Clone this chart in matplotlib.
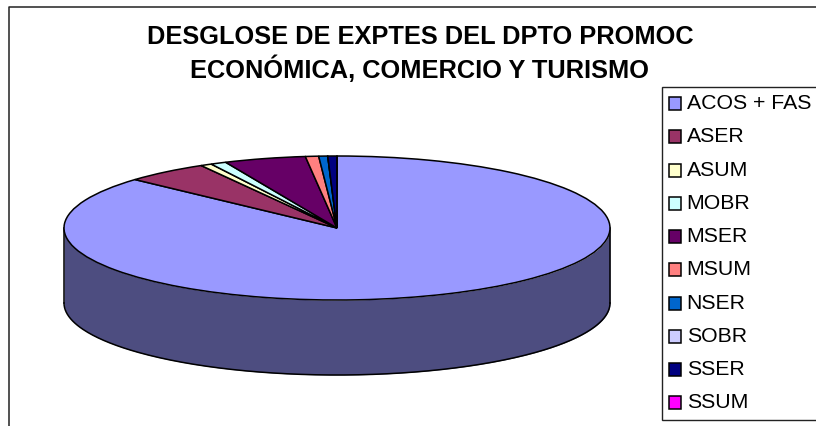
import numpy as np
import matplotlib
matplotlib.use('Agg')
import matplotlib.pyplot as plt
from matplotlib.lines import Line2D

plt.rcParams['font.family'] = ['Liberation Sans', 'DejaVu Sans']

labels = ['ACOS + FAS', 'ASER', 'ASUM', 'MOBR', 'MSER', 'MSUM', 'NSER', 'SOBR', 'SSER', 'SSUM']
values = [86.75, 4.97, 0.67, 0.93, 4.84, 0.78, 0.53, 0.0, 0.54, 0.0]
colors = ['#9999ff', '#993366', '#ffffcc', '#ccffff', '#660066', '#ff8080', '#0066cc', '#ccccff', '#000080', '#ff00ff']
title_lines = ['DESGLOSE DE EXPTES DEL DPTO PROMOC', 'ECONÓMICA, COMERCIO Y TURISMO']

W, H = 816, 426
fig = plt.figure(figsize=(W / 100, H / 100), dpi=100, facecolor='white')

# the axes box is exactly the top ellipse of the pie, in pixels
cx, cy, rx, ry = 337, 228, 273, 72
depth = 75
ax = fig.add_axes([(cx - rx) / W, (H - cy - ry) / H, 2 * rx / W, 2 * ry / H])
wedges, _ = ax.pie(values, colors=colors, startangle=90, counterclock=False, radius=1,
                   wedgeprops={'edgecolor': 'black', 'linewidth': 1.1, 'clip_on': False})
ax.set_aspect('auto')
ax.set_xlim(-1, 1)
ax.set_ylim(-1, 1)

# side wall of the cylinder, only the first slice is seen from the front
t = np.linspace(np.pi, 2 * np.pi, 300)
d = depth / ry
ax.fill_between(np.cos(t), np.sin(t), np.sin(t) - d, color='#4d4d80', lw=0, zorder=0, clip_on=False)
ax.plot(np.cos(t), np.sin(t) - d, color='black', lw=1.1, zorder=0.5, clip_on=False)
ax.plot([-1, -1], [0, -d], color='black', lw=1.1, zorder=0.5, clip_on=False)
ax.plot([1, 1], [0, -d], color='black', lw=1.1, zorder=0.5, clip_on=False)

# outer chart frame, cut off at the right and bottom of the image
fig.add_artist(Line2D([8.5 / W, 8.5 / W, 1], [0, 1 - 6.5 / H, 1 - 6.5 / H], color='#222222', lw=1.1))

fig.text(420 / W, 1 - 37 / H, title_lines[0], ha='center', va='center', fontsize=18.3, fontweight='bold', color='black')
fig.text(420 / W, 1 - 69 / H, title_lines[1], ha='center', va='center', fontsize=18.3, fontweight='bold', color='black')

leg = fig.legend(wedges, labels, loc='upper left', bbox_to_anchor=(662 / W, 1 - 87 / H),
                 bbox_transform=fig.transFigure, borderaxespad=0, fontsize=15.3, frameon=True,
                 fancybox=False, edgecolor='#222222', framealpha=1, borderpad=0.34,
                 labelspacing=0.67, handlelength=0.56, handleheight=0.56, handletextpad=0.26)
leg.get_frame().set_linewidth(1.0)
# swatches sit a little below the middle of the text
for h in leg.legend_handles:
    h.set_y(h.get_y() - 1.4)

fig.savefig('out.png', dpi=100)
